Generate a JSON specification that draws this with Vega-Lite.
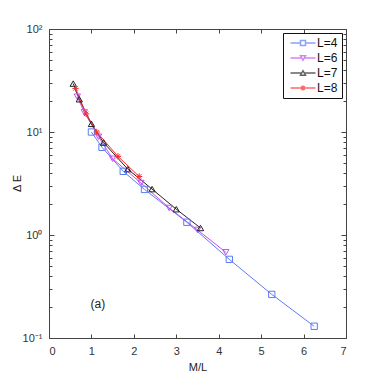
{
  "$schema": "https://vega.github.io/schema/vega-lite/v6.json",
  "width": 297,
  "height": 309,
  "autosize": "none",
  "padding": {"left": 49, "top": 29, "right": 36, "bottom": 44},
  "background": "white",
  "config": {
    "view": {"stroke": null},
    "font": "Liberation Sans",
    "axis": {"labelFont": "Liberation Sans", "titleFont": "Liberation Sans", "labelFontSize": 11, "titleFontSize": 11, "titleFontWeight": "normal", "labelColor": "#333", "titleColor": "#222", "domainColor": "#444", "tickColor": "#444", "grid": false}
  },
  "datasets": {
    "pts": [
      {"L": "L=4", "x": 1.0, "y": 10},
      {"L": "L=4", "x": 1.25, "y": 7.1},
      {"L": "L=4", "x": 1.75, "y": 4.15},
      {"L": "L=4", "x": 2.25, "y": 2.77},
      {"L": "L=4", "x": 3.25, "y": 1.33},
      {"L": "L=4", "x": 4.25, "y": 0.58},
      {"L": "L=4", "x": 5.25, "y": 0.265},
      {"L": "L=4", "x": 6.25, "y": 0.13},
      {"L": "L=6", "x": 0.667, "y": 22},
      {"L": "L=6", "x": 0.833, "y": 15.5},
      {"L": "L=6", "x": 1.167, "y": 9.0},
      {"L": "L=6", "x": 1.5, "y": 5.5},
      {"L": "L=6", "x": 2.167, "y": 3.2},
      {"L": "L=6", "x": 2.833, "y": 1.83},
      {"L": "L=6", "x": 3.5, "y": 1.12},
      {"L": "L=6", "x": 4.167, "y": 0.68},
      {"L": "L=7", "x": 0.571, "y": 29.5},
      {"L": "L=7", "x": 0.714, "y": 20.8},
      {"L": "L=7", "x": 1.0, "y": 12},
      {"L": "L=7", "x": 1.286, "y": 7.9},
      {"L": "L=7", "x": 1.857, "y": 4.36},
      {"L": "L=7", "x": 2.429, "y": 2.79},
      {"L": "L=7", "x": 3.0, "y": 1.78},
      {"L": "L=7", "x": 3.571, "y": 1.17},
      {"L": "L=8", "x": 0.625, "y": 26.5},
      {"L": "L=8", "x": 0.875, "y": 15},
      {"L": "L=8", "x": 1.125, "y": 10},
      {"L": "L=8", "x": 1.625, "y": 5.8},
      {"L": "L=8", "x": 2.125, "y": 3.7}
    ],
    "ann": [{"x": 1.15, "y": 0.215, "t": "(a)"}]
  },
  "layer": [
    {
      "data": {"name": "pts"},
      "mark": {"type": "line", "strokeWidth": 1},
      "encoding": {
        "x": {"field": "x", "type": "quantitative", "scale": {"domain": [0, 7], "nice": false},
              "axis": {"orient": "bottom", "title": "M/L", "values": [0,1,2,3,4,5,6,7], "tickSize": -4, "labelPadding": 11, "titlePadding": 5, "format": "d"}},
        "y": {"field": "y", "type": "quantitative", "scale": {"type": "log", "domain": [0.1, 100], "nice": false},
              "axis": {"orient": "left", "title": "Δ E", "values": [0.1,0.2,0.3,0.4,0.5,0.6,0.7,0.8,0.9,1,2,3,4,5,6,7,8,9,10,20,30,40,50,60,70,80,90,100],
                       "labelExpr": "datum.value == 100 ? '10²' : datum.value == 10 ? '10¹' : datum.value == 1 ? '10⁰' : abs(datum.value - 0.1) < 1e-9 ? '10⁻¹' : ''",
                       "tickSize": {"condition": {"test": "abs(log(datum.value)/LN10 - round(log(datum.value)/LN10)) < 1e-6", "value": -5}, "value": -3},
                       "labelPadding": 12, "titleX": -27, "titleY": 154}},
        "color": {"field": "L", "type": "nominal", "scale": {"domain": ["L=4","L=6","L=7","L=8"], "range": ["#5b7cf5", "#c050f5", "#222222", "#ff2a2a"]}, "legend": null}
      }
    },
    {
      "data": {"name": "pts"},
      "mark": {"type": "point", "filled": false, "strokeWidth": 1, "size": 40, "opacity": 1},
      "encoding": {
        "x": {"field": "x", "type": "quantitative", "axis": null},
        "y": {"field": "y", "type": "quantitative", "axis": null},
        "color": {"field": "L", "type": "nominal", "scale": {"domain": ["L=4","L=6","L=7","L=8"], "range": ["#5b7cf5", "#c050f5", "#222222", "#ff2a2a"]}, "legend": null},
        "shape": {"field": "L", "type": "nominal", "scale": {"domain": ["L=4","L=6","L=7","L=8"], "range": ["square", "triangle-down", "triangle-up", "M-1,0H1M0,-1V1M-0.7,-0.7L0.7,0.7M-0.7,0.7L0.7,-0.7"]}, "legend": null}
      }
    },
    {
      "data": {"name": "ann"},
      "mark": {"type": "text", "fontSize": 12, "font": "Liberation Sans", "color": "#222"},
      "encoding": {
        "x": {"field": "x", "type": "quantitative", "axis": {"orient": "top", "title": null, "labels": false, "values": [0,1,2,3,4,5,6,7], "tickSize": -4}},
        "y": {"field": "y", "type": "quantitative", "axis": {"orient": "right", "title": null, "labels": false, "values": [0.1,0.2,0.3,0.4,0.5,0.6,0.7,0.8,0.9,1,2,3,4,5,6,7,8,9,10,20,30,40,50,60,70,80,90,100],
                       "tickSize": {"condition": {"test": "abs(log(datum.value)/LN10 - round(log(datum.value)/LN10)) < 1e-6", "value": -5}, "value": -3}}},
        "text": {"field": "t"}
      }
    },
    {
      "data": {"name": "pts"},
      "transform": [{"filter": "datum.x > 100"}],
      "mark": {"type": "point", "filled": false, "strokeWidth": 1, "size": 25},
      "encoding": {
        "x": {"field": "x", "type": "quantitative", "axis": null},
        "y": {"field": "y", "type": "quantitative", "axis": null},
        "color": {"field": "L", "type": "nominal", "scale": {"domain": ["L=4","L=6","L=7","L=8"], "range": ["#5b7cf5", "#c050f5", "#222222", "#ff2a2a"]},
          "legend": {"orient": "top-right", "offset": 4, "title": null, "strokeColor": "#111", "fillColor": "white", "padding": 4,
                     "labelFontSize": 12, "labelFont": "Liberation Sans", "labelColor": "#111", "symbolSize": 25, "symbolOffset": 10, "labelOffset": 8, "rowPadding": 3}},
        "shape": {"field": "L", "type": "nominal", "scale": {"domain": ["L=4","L=6","L=7","L=8"], "range": ["M-5,0H-1M1,0H5M-1,-1H1V1H-1Z", "M-5,0H-0.5M0.5,0H5M-1,-0.9L1,-0.9L0,0.9Z", "M-5,0H-0.5M0.5,0H5M-1,0.9L1,0.9L0,-0.9Z", "M-5,0H5M0,-1V1M-0.7,-0.7L0.7,0.7M-0.7,0.7L0.7,-0.7"]},
          "legend": {"orient": "top-right", "offset": 4, "title": null, "strokeColor": "#111", "fillColor": "white", "padding": 4,
                     "labelFontSize": 12, "labelFont": "Liberation Sans", "labelColor": "#111", "symbolSize": 25, "symbolOffset": 10, "labelOffset": 8, "rowPadding": 3}}
      }
    }
  ],
  "resolve": {"axis": {"x": "independent", "y": "independent"}, "scale": {"color": "independent", "shape": "independent"}}
}
